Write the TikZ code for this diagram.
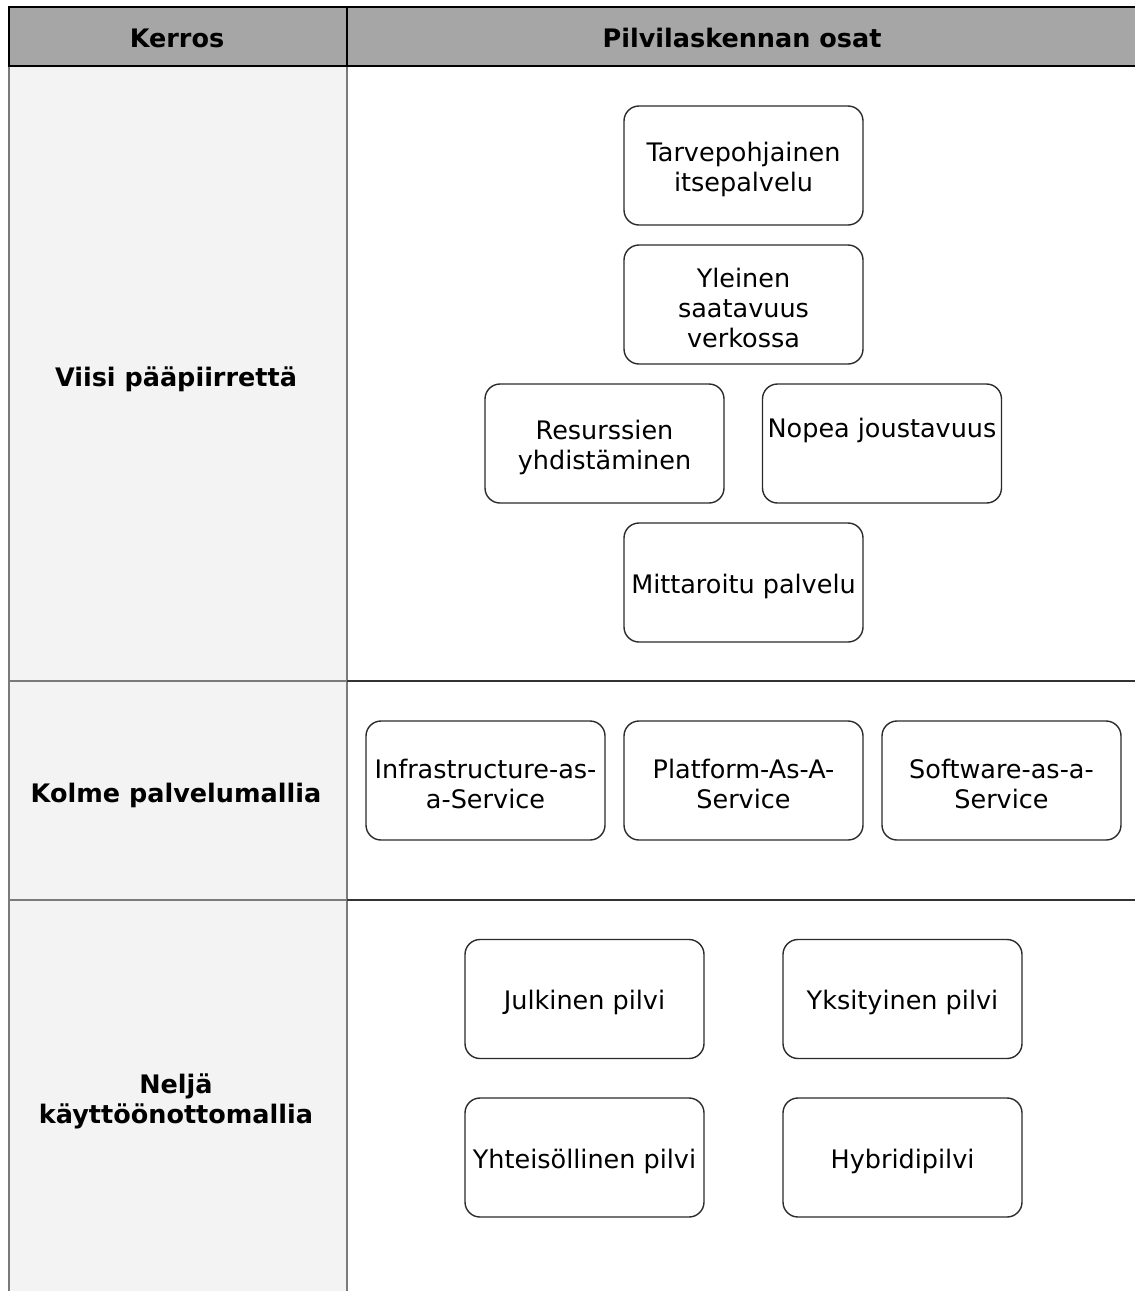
\documentclass[tikz,border=0pt]{standalone}
\usepackage{fontspec}
\setmainfont{DejaVu Sans}
\definecolor{headfill}{HTML}{A6A6A6}
\definecolor{leftfill}{HTML}{F3F3F3}
\definecolor{gridgray}{HTML}{7A7A7A}
\definecolor{griddark}{HTML}{333333}
\definecolor{boxline}{HTML}{2B2B2B}
\tikzset{
  box/.style={draw=boxline, line width=1.4pt, rounded corners=15pt, fill=white,
    minimum width=239pt, minimum height=119pt, inner sep=0pt},
  txt/.style={align=center, inner sep=0pt, font=\fontsize{25.5}{30}\selectfont},
  lbl/.style={align=center, inner sep=0pt, font=\fontsize{25.5}{30}\selectfont\bfseries},
}
\begin{document}
\begin{tikzpicture}[x=1pt,y=-1pt]
\useasboundingbox (0,0) rectangle (1135,1291);
% fills
\fill[headfill] (9,7) rectangle (1135,66);
\fill[leftfill] (9,66) rectangle (347,1291);
% grid lines
\draw[gridgray, line width=1.3pt] (9,66) -- (9,1291);
\draw[gridgray, line width=1.3pt] (347,66) -- (347,1291);
\draw[gridgray, line width=1.3pt] (9,681) -- (347,681);
\draw[gridgray, line width=1.3pt] (9,900) -- (347,900);
\draw[griddark, line width=1.3pt] (347,681) -- (1135,681);
\draw[griddark, line width=1.3pt] (347,900) -- (1135,900);
% header
\draw[black, line width=2pt] (1135,7) -- (9,7) -- (9,66) -- (1135,66);
\draw[black, line width=2pt] (347,7) -- (347,66);
\node[lbl] (hk) at (177,38) {Kerros};
\node[lbl] (hp) at (742,38) {Pilvilaskennan osat};
% left labels
\node[lbl] (l1) at (176,379) {Viisi pääpiirrettä};
\node[lbl] (l2) at (176,795) {Kolme palvelumallia};
\node[lbl] (l3) at (176,1101) {Neljä\\käyttöönottomallia};
% boxes
\node[box] (b1) at (743.5,165.5) {};
\node[box] (b2) at (743.5,304.5) {};
\node[box] (b3) at (604.5,443.5) {};
\node[box] (b4) at (882,443.5) {};
\node[box] (b5) at (743.5,582.5) {};
\node[box] (s1) at (485.5,780.5) {};
\node[box] (s2) at (743.5,780.5) {};
\node[box] (s3) at (1001.5,780.5) {};
\node[box] (d1) at (584.5,999) {};
\node[box] (d2) at (902.5,999) {};
\node[box] (d3) at (584.5,1157.5) {};
\node[box] (d4) at (902.5,1157.5) {};
% box texts
\node[txt] (tb1) at ([yshift=-3.5pt]b1.center) {Tarvepohjainen\\itsepalvelu};
\node[txt] (tb2) at ([yshift=-3.5pt]b2.center) {Yleinen\\saatavuus\\verkossa};
\node[txt] (tb3) at ([yshift=-3.5pt]b3.center) {Resurssien\\yhdistäminen};
\node[txt] (tb4) at ([yshift=-3.5pt]b4.center) {Nopea joustavuus\\\strut};
\node[txt] (tb5) at ([yshift=-3.5pt]b5.center) {Mittaroitu palvelu};
\node[txt] (ts1) at ([yshift=-3.5pt]s1.center) {Infrastructure-as-\\a-Service};
\node[txt] (ts2) at ([yshift=-3.5pt]s2.center) {Platform-As-A-\\Service};
\node[txt] (ts3) at ([yshift=-3.5pt]s3.center) {Software-as-a-\\Service};
\node[txt] (td1) at ([yshift=-3.5pt]d1.center) {Julkinen pilvi};
\node[txt] (td2) at ([yshift=-3.5pt]d2.center) {Yksityinen pilvi};
\node[txt] (td3) at ([yshift=-3.5pt]d3.center) {Yhteisöllinen pilvi};
\node[txt] (td4) at ([yshift=-3.5pt]d4.center) {Hybridipilvi};
\end{tikzpicture}
\end{document}
